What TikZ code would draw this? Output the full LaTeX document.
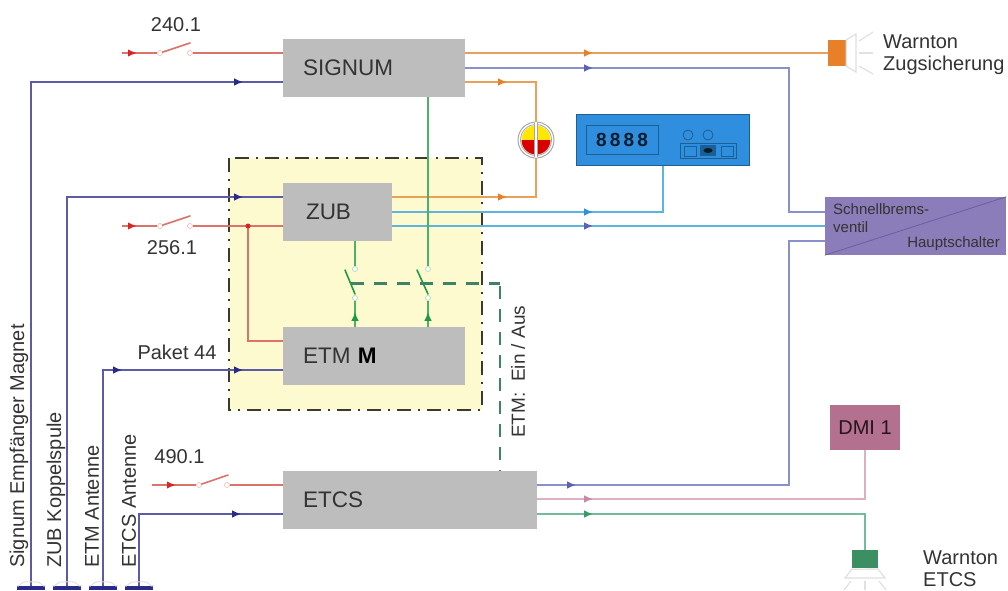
\documentclass[tikz,border=0pt]{standalone}
\usepackage{fontspec}
\setmainfont{Liberation Sans}
\usetikzlibrary{arrows.meta,decorations.markings,calc}
\definecolor{boxgray}{HTML}{BDBDBD}
\definecolor{txt}{HTML}{333333}
\definecolor{yel}{HTML}{FEFAD0}
\definecolor{frame}{HTML}{3A3A30}
\definecolor{navyl}{HTML}{5B5BA6}
\definecolor{navya}{HTML}{2A2A8A}
\definecolor{redl}{HTML}{D9736C}
\definecolor{reda}{HTML}{D92525}
\definecolor{orgl}{HTML}{E9A058}
\definecolor{orga}{HTML}{E8802A}
\definecolor{perl}{HTML}{8A90CC}
\definecolor{pera}{HTML}{5A62B8}
\definecolor{cyal}{HTML}{5DB4DE}
\definecolor{cyaa}{HTML}{2F90DC}
\definecolor{grnl}{HTML}{4FB06C}
\definecolor{grna}{HTML}{1E9A45}
\definecolor{tea}{HTML}{3F8266}
\definecolor{pnkl}{HTML}{DDB0C2}
\definecolor{pnka}{HTML}{C98AA6}
\definecolor{dmi}{HTML}{B4708F}
\definecolor{mntl}{HTML}{72BB9C}
\definecolor{mnta}{HTML}{3C9A6A}
\definecolor{wgrn}{HTML}{3C8F63}
\definecolor{devb}{HTML}{2F8EDE}
\definecolor{devd}{HTML}{1C5F92}
\definecolor{purp}{HTML}{8B7DB9}
\definecolor{purd}{HTML}{6C5EA0}
\definecolor{lgray}{HTML}{E0E0E0}
\tikzset{
  x=1pt,y=-1pt,
  every node/.style={font=\fontsize{20}{24}\selectfont,text=txt},
  wire/.style={line width=1.7pt,line join=miter},
  arr/.style 2 args={postaction={decorate,decoration={markings,mark=at position #1 with {\arrow[color=#2]{Latex[length=9pt,width=7.5pt]}}}}},
  arrtwo/.style n args={3}{postaction={decorate,decoration={markings,mark=at position #1 with {\arrow[color=#3]{Latex[length=9pt,width=7.5pt]}},mark=at position #2 with {\arrow[color=#3]{Latex[length=9pt,width=7.5pt]}}}}},
  graybox/.style={fill=boxgray,draw=none,minimum height=58pt,inner xsep=20pt,inner ysep=0pt,text width=#1pt-40pt,align=left,font=\fontsize{22.5}{26}\selectfont},
  contact/.style={circle,fill=white,draw=#1!45!white,line width=.7pt,minimum size=5pt,inner sep=0pt},
  lever/.style={line width=1.6pt,line cap=round},
  lab/.style={inner sep=0pt},
  vlab/.style={inner sep=0pt,rotate=90,anchor=west},
  antenna/.style={fill=navya,draw=none,minimum width=28pt,minimum height=4pt,inner sep=0pt},
  cone/.style={fill=white,draw=lgray,line width=1.2pt},
  ray/.style={draw=lgray,line width=1.2pt},
  smalltxt/.style={lab,font=\fontsize{15}{18}\selectfont},
}
\begin{document}
\begin{tikzpicture}
\useasboundingbox (0,0) rectangle (1008,590);
% safety frame background
\fill[yel] (229,158) rectangle (482,410);
\draw[frame,line width=2.4pt,dash pattern=on 14pt off 7pt on 2pt off 7pt] (229,158) rectangle (482,410);

% named nodes
\node[graybox=182] (signum) at (374,68) {SIGNUM};
\node[graybox=109] (zub) at (337.5,212) {\hspace{3pt}ZUB};
\node[graybox=182] (etm) at (374,356) {ETM {\bfseries\color{black} M}};
\node[graybox=254] (etcs) at (410,500) {ETCS};
\node[fill=dmi,minimum width=70pt,minimum height=45pt,inner sep=0pt,text=black!80!dmi] (dmi1) at (865,427.5) {DMI 1};
\node[fill=purp,minimum width=181pt,minimum height=58pt,inner sep=0pt] (sbv) at (915.5,226) {};
\node[fill=orga,minimum width=18pt,minimum height=26pt,inner sep=0pt] (wz) at (837,53) {};
\node[fill=wgrn,minimum width=26pt,minimum height=18pt,inner sep=0pt] (we) at (865,559) {};
\node[fill=devb,draw=devd,line width=.6pt,minimum width=173pt,minimum height=51pt,inner sep=0pt] (dev) at (663,140) {};
\node[circle,minimum size=36pt,inner sep=0pt] (lamp) at (536,140) {};
\node[antenna] (a1) at (31,588) {};
\node[antenna] (a2) at (67,588) {};
\node[antenna] (a3) at (103,588) {};
\node[antenna] (a4) at (139,588) {};

% antenna wires
\draw[wire,navyl,arr={716pt}{navya}] (a1.north) |- (signum.west |- 0,82);
\draw[wire,navyl,arr={565pt}{navya}] (a2.north) |- (zub.west |- 0,197);
\draw[wire,navyl,arrtwo={235pt}{356pt}{navya}] (a3.north) |- (etm.west |- 0,370);
\draw[wire,navyl,arr={174pt}{navya}] (a4.north) |- (etcs.west |- 0,514);
\foreach \n in {a1,a2,a3,a4}
  \draw[lgray,line width=1pt] ($(\n.north west)+(0,-.5)$) to[out=-70,in=180] ($(\n.north)+(-6,-4)$) -- ($(\n.north)+(6,-4)$) to[out=0,in=-110] ($(\n.north east)+(0,-.5)$);

% supply switches
\node[contact=redl] (s1a) at (160,53) {};
\node[contact=redl] (s1b) at (190,53) {};
\coordinate (s1in) at (122,53);
\draw[wire,redl,arr={15pt}{reda}] (s1in) -- (s1a);
\draw[wire,redl] (s1b) -- (signum.west |- s1b);
\draw[lever,redl] (s1a) -- (190,43);

\node[contact=redl] (s2a) at (160,226) {};
\node[contact=redl] (s2b) at (190,226) {};
\coordinate (s2in) at (122,226);
\coordinate (s2j) at (248,226);
\draw[wire,redl,arr={15pt}{reda}] (s2in) -- (s2a);
\draw[wire,redl] (s2b) -- (zub.west |- s2b);
\draw[lever,redl] (s2a) -- (190,216);
\draw[wire,redl] (s2j) |- (etm.west |- 0,341);
\fill[reda] (s2j) circle (2.5);

\node[contact=redl] (s3a) at (199,485) {};
\node[contact=redl] (s3b) at (227,485) {};
\coordinate (s3in) at (152,485);
\draw[wire,redl,arr={24pt}{reda}] (s3in) -- (s3a);
\draw[wire,redl] (s3b) -- (etcs.west |- s3b);
\draw[lever,redl] (s3a) -- (228,475);

% right hand wires
\draw[wire,orgl,arr={128pt}{orga}] (signum.east |- wz) -- (wz.west);
\draw[wire,perl,arr={128pt}{pera}] (signum.east |- 0,68) -| (789,212) -- (sbv.west |- 0,212);
\draw[wire,orgl,arr={42pt}{orga}] (signum.east |- 0,82) -| (lamp.north);
\draw[wire,orgl,arr={115pt}{orga}] (zub.east |- 0,197) -| (lamp.south);
\draw[wire,cyal,arr={201pt}{cyaa}] (zub.east |- 0,212) -| (dev.south);
\draw[wire,cyal,arr={201pt}{pera}] (zub.east |- 0,226) -- (sbv.west |- 0,226);
\draw[wire,perl,arr={39pt}{pera}] (etcs.east |- 0,485) -| (789,241) -- (sbv.west |- 0,241);
\draw[wire,pnkl,arr={56pt}{pnka}] (etcs.east |- 0,499) -| (dmi1.south);
\draw[wire,mntl,arr={56pt}{mnta}] (etcs.east |- 0,514) -| (we.north);

% green switches
\node[contact=grnl] (g1a) at (355,269) {};
\node[contact=grnl] (g1b) at (355,298) {};
\node[contact=grnl] (g2a) at (428,269) {};
\node[contact=grnl] (g2b) at (428,298) {};
\draw[wire,grnl] (zub.south -| g1a) -- (g1a);
\draw[wire,grnl] (signum.south -| g2a) -- (g2a);
\draw[wire,grnl,arr={15pt}{grna}] (etm.north -| g1b) -- (g1b);
\draw[wire,grnl,arr={15pt}{grna}] (etm.north -| g2b) -- (g2b);
\draw[lever,grna] (345,270) -- (355,294);
\draw[lever,grna] (417,270) -- (428,294);
\coordinate (dashstart) at (351,283.5);
\coordinate (dashcorner) at (500,283.5);
\draw[tea,line width=2.2pt,dash pattern=on 13pt off 10pt] (dashstart) -- (dashcorner);
\draw[tea,line width=2.2pt,dash pattern=on 13pt off 10pt] (500,286) -- (etcs.north -| dashcorner);

% purple box details
\draw[purd,line width=.8pt] (sbv.south west) -- (sbv.north east);
\node[smalltxt,anchor=west] (sb1) at (833,209) {Schnellbrems-};
\node[smalltxt,anchor=west] (sb2) at (833,227) {ventil};
\node[smalltxt,anchor=east] (sb3) at (1000,244) {Hauptschalter};

% speakers
\draw[cone] (wz.north east) -- (856,34) -- (856,72) -- (wz.south east) -- cycle;
\draw[ray] (859,41) -- (873,32);
\draw[ray] (859,53) -- (873,53);
\draw[ray] (859,66) -- (873,74);
\draw[cone] (we.south west) ++(0,1) -- (845,578) -- (885,578) -- (878,569) -- cycle;
\draw[ray] (851,581) -- (844,590);
\draw[ray] (865,581) -- (865,590);
\draw[ray] (879,581) -- (886,590);

% lamp
\fill[white] (lamp) circle (18);
\draw[gray!70,line width=1pt] (lamp) circle (18);
\draw[gray!70,line width=.8pt] (lamp) circle (15.5);
\fill[yellow!90!orange] ($(lamp)+(-14.5,0)$) arc[start angle=180,end angle=360,radius=14.5] -- cycle;
\fill[red!85!black] ($(lamp)+(-14.5,0)$) arc[start angle=180,end angle=0,radius=14.5] -- cycle;
\fill[white] ($(lamp)+(-1.4,-18)$) rectangle ($(lamp)+(1.4,18)$);
\draw[gray!70,line width=.6pt] ($(lamp)+(-1.4,-17)$) -- ($(lamp)+(-1.4,17)$) ($(lamp)+(1.4,-17)$) -- ($(lamp)+(1.4,17)$);

% device
\draw[devd,line width=.8pt] (586,125) rectangle (658,154);
\node[lab,font=\bfseries\fontsize{19}{22}\selectfont,text=black!70!devd] (dig) at (622,140) {8\,8\,8\,8};
\draw[devd,line width=.8pt] (688,135) circle (5) (708,135) circle (5);
\draw[devd,line width=1pt] (680,143) rectangle (736,158);
\draw[devd,line width=.8pt] (684,146) rectangle (696,156) (721,146) rectangle (733,156);
\fill[devd] (700,145) rectangle (716,156);
\fill[black!70!devd] (708,150.5) ellipse (4.5 and 2.5);

% texts
\node[lab] (t240) at (176,25) {240.1};
\node[lab] (t256) at (172,248) {256.1};
\node[lab] (t490) at (179.5,457) {490.1};
\node[lab] (tp44) at (177,352) {Paket 44};
\node[vlab] (v1) at (19,568) {Signum Empfänger Magnet};
\node[vlab] (v2) at (56,568) {ZUB Koppelspule};
\node[vlab] (v3) at (92,568) {ETM Antenne};
\node[vlab] (v4) at (129,568) {ETCS Antenne};
\node[vlab,font=\fontsize{19}{22}\selectfont] (v5) at (518,438) {ETM:\ \ Ein / Aus};
\node[lab,anchor=west] (wt1) at (883,42) {Warnton};
\node[lab,anchor=west] (wt2) at (883,65) {Zugsicherung};
\node[lab,anchor=west] (wt3) at (923,558) {Warnton};
\node[lab,anchor=west] (wt4) at (923,580) {ETCS};
\end{tikzpicture}
\end{document}
